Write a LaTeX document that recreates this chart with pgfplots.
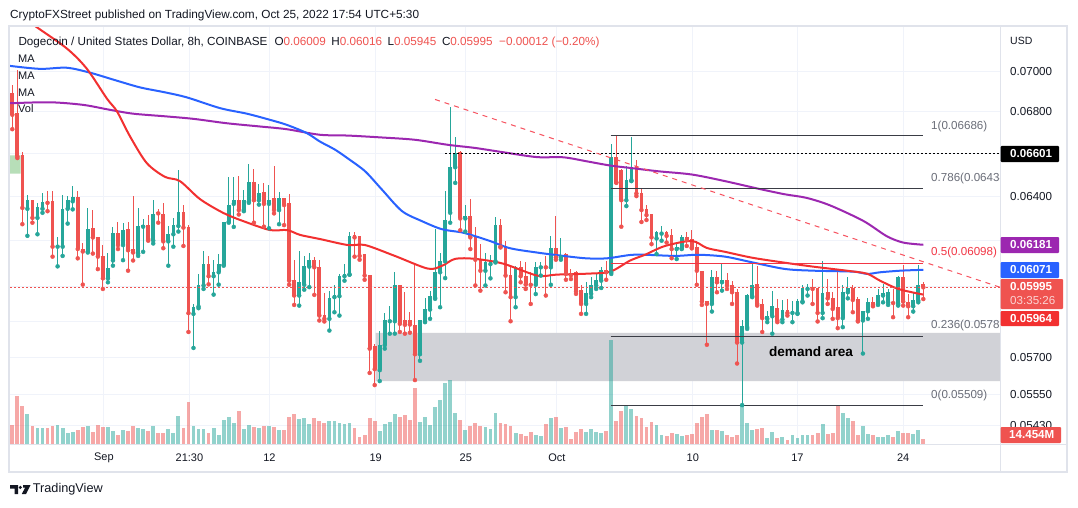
\documentclass[border=0pt]{standalone}
\usepackage{pgfplots}
\pgfplotsset{compat=1.18}
\usepackage{pgfplotstable}
\usepackage{fontspec}
\setmainfont{Liberation Sans}
\definecolor{up}{HTML}{26A69A}
\definecolor{dn}{HTML}{EF5350}
\definecolor{maR}{HTML}{F23030}
\definecolor{maB}{HTML}{2962FF}
\definecolor{maP}{HTML}{9C27B0}
\definecolor{gridc}{HTML}{F0F3FA}
\definecolor{framec}{HTML}{E0E3EB}
\definecolor{txt}{HTML}{131722}
\definecolor{fibc}{HTML}{3A3D45}
\definecolor{fibred}{HTML}{F23645}
\definecolor{fibtxt}{HTML}{6A6D78}
\definecolor{demand}{RGB}{209,210,215}
\definecolor{trend}{HTML}{F7525F}
\definecolor{lgreen}{RGB}{165,214,167}
\newcommand{\fs}[1]{\fontsize{#1}{#1}\selectfont}

% rising candles: index, open, high, low, close, volume (M)
\pgfplotstableread{
i O H L C V
3 0.06343 0.06408 0.06221 0.06382 87
5 0.06302 0.06370 0.06228 0.06350 47
6 0.06343 0.06416 0.06325 0.06376 47
9 0.06173 0.06216 0.06086 0.06177 55
10 0.06173 0.06408 0.06132 0.06340 47
11 0.06343 0.06401 0.06276 0.06382 33
12 0.06377 0.06446 0.06340 0.06396 36
15 0.06151 0.06346 0.06147 0.06252 53
19 0.06034 0.06147 0.06017 0.06078 48
20 0.06112 0.06261 0.06089 0.06234 38
22 0.06180 0.06277 0.06113 0.06247 40
25 0.06142 0.06347 0.06132 0.06265 47
26 0.06262 0.06298 0.06150 0.06269 43
28 0.06200 0.06385 0.06187 0.06319 53
31 0.06196 0.06265 0.06089 0.06228 43
32 0.06228 0.06299 0.06173 0.06269 33
33 0.06265 0.06521 0.06240 0.06328 82
36 0.05882 0.05924 0.05740 0.05913 53
37 0.05913 0.06053 0.05906 0.06003 43
38 0.06003 0.06154 0.05988 0.06096 43
40 0.06043 0.06115 0.05964 0.06063 47
41 0.06060 0.06140 0.06007 0.06096 26
42 0.06093 0.06283 0.06089 0.06283 69
43 0.06284 0.06488 0.06280 0.06362 79
44 0.06365 0.06488 0.06261 0.06382 62
46 0.06337 0.06431 0.06332 0.06385 43
47 0.06377 0.06552 0.06370 0.06468 55
49 0.06382 0.06459 0.06362 0.06416 47
51 0.06365 0.06454 0.06255 0.06385 53
53 0.06337 0.06419 0.06273 0.06393 40
57 0.05960 0.06154 0.05917 0.06017 72
58 0.06006 0.06132 0.05985 0.06089 76
59 0.06085 0.06147 0.05996 0.06115 58
63 0.05861 0.05981 0.05812 0.05950 66
64 0.05953 0.06003 0.05889 0.05964 66
65 0.05957 0.06053 0.05875 0.06046 62
66 0.06043 0.06096 0.06024 0.06053 57
67 0.06050 0.06236 0.06050 0.06221 62
73 0.05649 0.05812 0.05605 0.05753 38
74 0.05751 0.05885 0.05737 0.05854 58
75 0.05851 0.05914 0.05799 0.05854 65
76 0.05851 0.06060 0.05799 0.06003 87
81 0.05714 0.05857 0.05687 0.05854 65
82 0.05851 0.05948 0.05847 0.05903 79
83 0.05900 0.05981 0.05861 0.05960 55
84 0.05950 0.06253 0.05946 0.06063 108
85 0.06060 0.06147 0.05910 0.06108 127
86 0.06108 0.06426 0.06035 0.06291 175
87 0.06325 0.06826 0.06280 0.06535 185
88 0.06535 0.06676 0.06462 0.06602 89
90 0.06299 0.06362 0.06240 0.06310 40
94 0.06067 0.06147 0.06003 0.06103 48
95 0.06096 0.06135 0.06034 0.06110 43
96 0.06108 0.06305 0.06103 0.06269 91
100 0.05953 0.06089 0.05910 0.06085 31
104 0.06006 0.06103 0.05966 0.06085 26
105 0.06082 0.06106 0.06046 0.06089 23
107 0.06082 0.06221 0.06006 0.06166 74
109 0.06125 0.06209 0.06115 0.06137 45
114 0.05924 0.06017 0.05882 0.05970 36
115 0.05967 0.06038 0.05953 0.06007 43
116 0.06003 0.06053 0.05988 0.06028 34
117 0.06024 0.06082 0.05992 0.06070 31
119 0.06060 0.06644 0.06053 0.06581 300
122 0.06382 0.06539 0.06355 0.06474 111
123 0.06474 0.06680 0.06470 0.06531 101
128 0.06209 0.06243 0.06140 0.06236 55
129 0.06231 0.06265 0.06199 0.06236 26
132 0.06162 0.06191 0.06118 0.06169 28
133 0.06165 0.06224 0.06162 0.06214 23
139 0.05924 0.06070 0.05892 0.06038 40
141 0.06017 0.06096 0.05981 0.06027 38
145 0.05762 0.05854 0.05509 0.05830 111
146 0.05826 0.05967 0.05819 0.05964 60
147 0.05957 0.06100 0.05953 0.06007 40
150 0.05861 0.05896 0.05847 0.05875 16
151 0.05872 0.05978 0.05799 0.05914 34
153 0.05858 0.05941 0.05847 0.05900 21
155 0.05886 0.05938 0.05847 0.05896 26
156 0.05885 0.05946 0.05882 0.05938 18
157 0.05934 0.06006 0.05931 0.05991 26
158 0.05988 0.06010 0.05960 0.05998 26
161 0.05886 0.06110 0.05864 0.05971 58
165 0.05864 0.06003 0.05826 0.05977 89
166 0.05974 0.06038 0.05948 0.05991 76
169 0.05854 0.05896 0.05717 0.05896 52
170 0.05893 0.05948 0.05861 0.05931 29
172 0.05924 0.05988 0.05920 0.05963 19
173 0.05960 0.06010 0.05931 0.05970 19
174 0.05931 0.05988 0.05920 0.05974 26
176 0.05924 0.06046 0.05917 0.06038 38
179 0.05914 0.05977 0.05892 0.05943 28
180 0.05938 0.06092 0.05931 0.06003 40
}\upc

% falling candles
\pgfplotstableread{
i O H L C V
0 0.06892 0.06933 0.06716 0.06786 55
1 0.06794 0.07010 0.06578 0.06586 140
2 0.06591 0.06605 0.06273 0.06347 111
4 0.06382 0.06385 0.06280 0.06302 53
7 0.06377 0.06423 0.06332 0.06370 47
8 0.06377 0.06423 0.06129 0.06173 53
13 0.06396 0.06423 0.06121 0.06162 40
14 0.06163 0.06191 0.06007 0.06151 48
16 0.06255 0.06336 0.06142 0.06214 36
17 0.06214 0.06214 0.06074 0.06129 55
18 0.06132 0.06182 0.05988 0.06034 50
21 0.06234 0.06284 0.06162 0.06180 26
23 0.06250 0.06284 0.06067 0.06157 39
24 0.06163 0.06401 0.06112 0.06147 53
27 0.06269 0.06313 0.06199 0.06206 38
29 0.06328 0.06343 0.06280 0.06322 33
30 0.06317 0.06370 0.06166 0.06196 33
34 0.06328 0.06360 0.06176 0.06258 47
35 0.06261 0.06269 0.05806 0.05885 122
39 0.06096 0.06132 0.06008 0.06043 33
45 0.06382 0.06493 0.06317 0.06337 95
48 0.06468 0.06528 0.06280 0.06382 50
50 0.06419 0.06462 0.06262 0.06365 53
52 0.06390 0.06539 0.06322 0.06337 50
54 0.06393 0.06393 0.06269 0.06360 40
55 0.06370 0.06413 0.06006 0.06024 79
56 0.06028 0.06115 0.05920 0.05960 87
60 0.06115 0.06125 0.05963 0.06082 76
61 0.06082 0.06115 0.05854 0.05875 67
62 0.05879 0.05971 0.05850 0.05861 60
68 0.06225 0.06239 0.06129 0.06214 47
69 0.06221 0.06221 0.06115 0.06132 21
70 0.06140 0.06140 0.06028 0.06046 26
71 0.06050 0.06050 0.05638 0.05737 76
72 0.05747 0.05756 0.05589 0.05653 66
77 0.06006 0.06006 0.05806 0.05840 79
78 0.05854 0.05977 0.05799 0.05836 84
79 0.05854 0.05889 0.05803 0.05837 69
80 0.05836 0.06096 0.05609 0.05714 163
89 0.06605 0.06613 0.06246 0.06299 69
91 0.06310 0.06388 0.06162 0.06214 53
92 0.06221 0.06262 0.06003 0.06115 60
93 0.06115 0.06184 0.05981 0.06067 52
97 0.06269 0.06295 0.06169 0.06173 60
98 0.06176 0.06199 0.05974 0.06046 57
99 0.06050 0.06092 0.05851 0.05953 53
101 0.06085 0.06110 0.06017 0.06043 28
102 0.06046 0.06103 0.05988 0.06007 23
103 0.06008 0.06063 0.05924 0.06006 34
106 0.06089 0.06132 0.05960 0.06082 58
108 0.06166 0.06310 0.06115 0.06125 77
110 0.06140 0.06147 0.06028 0.06053 48
111 0.06057 0.06074 0.06031 0.06048 14
112 0.06060 0.06067 0.05967 0.05978 36
113 0.05985 0.06003 0.05882 0.05924 43
118 0.06070 0.06110 0.06028 0.06060 38
120 0.06581 0.06686 0.06462 0.06465 66
121 0.06521 0.06527 0.06262 0.06382 95
124 0.06539 0.06567 0.06401 0.06413 81
125 0.06416 0.06439 0.06283 0.06337 74
126 0.06343 0.06358 0.06292 0.06314 50
127 0.06317 0.06317 0.06184 0.06214 65
130 0.06236 0.06243 0.06191 0.06221 23
131 0.06224 0.06253 0.06122 0.06162 31
134 0.06217 0.06236 0.06176 0.06202 26
135 0.06206 0.06247 0.06165 0.06169 29
136 0.06173 0.06199 0.06006 0.06067 62
137 0.06067 0.06067 0.05920 0.05934 79
138 0.05938 0.05938 0.05753 0.05924 87
140 0.06038 0.06067 0.05974 0.06017 40
142 0.06027 0.06056 0.05988 0.06003 26
143 0.06003 0.06024 0.05924 0.05974 21
144 0.05977 0.05988 0.05676 0.05762 26
148 0.06010 0.06086 0.05917 0.05924 43
149 0.05924 0.05946 0.05806 0.05864 45
152 0.05907 0.05946 0.05847 0.05854 18
154 0.05900 0.05946 0.05875 0.05886 12
159 0.05995 0.06031 0.05924 0.05988 26
160 0.05991 0.05991 0.05850 0.05886 31
162 0.05974 0.06031 0.05924 0.05948 28
163 0.05948 0.05974 0.05861 0.05903 31
164 0.05910 0.06074 0.05822 0.05864 111
167 0.05991 0.06003 0.05889 0.05941 67
168 0.05944 0.05953 0.05850 0.05854 26
171 0.05931 0.05953 0.05914 0.05920 26
175 0.05934 0.05988 0.05868 0.05928 21
177 0.06038 0.06092 0.05917 0.05934 33
178 0.05934 0.05967 0.05868 0.05914 33
181 0.06009 0.06016 0.05945 0.05995 14.454
}\dnc

\pgfplotstableread{
i P
2.5 0.07269
5.1 0.07222
10.9 0.07115
14.8 0.07014
18.8 0.06865
20.8 0.06802
23.4 0.06681
26.7 0.06555
30.3 0.06490
33.3 0.06470
37.3 0.06387
41.9 0.06324
45.8 0.06288
51.2 0.06247
54.6 0.06247
57.2 0.06225
61.1 0.06207
66.7 0.06180
70.1 0.06180
76.0 0.06132
82.6 0.06076
85.4 0.06089
88.0 0.06119
91.9 0.06119
97.5 0.06098
104.3 0.06046
108.2 0.06050
114.2 0.06054
118.8 0.06063
122.7 0.06111
125.7 0.06137
129.7 0.06176
135.0 0.06198
138.0 0.06167
141.6 0.06150
147.0 0.06124
153.5 0.06102
159.1 0.06085
165.8 0.06067
169.8 0.06054
172.4 0.06024
175.8 0.05990
179.0 0.05973
181.0 0.05964
}\maRed

\pgfplotstableread{
i P
-0.5 0.07028
5.5 0.07013
10.8 0.07019
15.4 0.06994
20.7 0.06954
25.4 0.06920
30.3 0.06896
34.7 0.06871
41.3 0.06818
46.6 0.06791
51.2 0.06761
54.5 0.06737
58.5 0.06697
61.1 0.06657
64.1 0.06618
66.8 0.06574
70.1 0.06516
73.4 0.06432
77.4 0.06333
81.3 0.06288
85.3 0.06251
89.3 0.06236
91.9 0.06220
94.9 0.06198
98.9 0.06166
104.2 0.06147
109.5 0.06132
114.1 0.06121
118.1 0.06121
122.7 0.06136
125.7 0.06137
131.7 0.06132
136.3 0.06137
141.6 0.06129
146.9 0.06104
153.5 0.06075
159.2 0.06067
167.1 0.06063
169.8 0.06053
172.4 0.06060
176.4 0.06067
181.0 0.06071
}\maBlue

\pgfplotstableread{
i P
-0.5 0.06842
7.5 0.06847
14.1 0.06834
19.4 0.06810
24.0 0.06791
30.3 0.06778
36.0 0.06766
42.6 0.06745
49.2 0.06729
54.5 0.06716
61.1 0.06689
66.8 0.06685
73.4 0.06676
80.0 0.06665
86.6 0.06641
91.9 0.06626
97.6 0.06605
104.2 0.06583
109.5 0.06582
114.1 0.06563
118.8 0.06543
122.7 0.06532
128.4 0.06516
135.0 0.06501
141.6 0.06470
148.2 0.06435
153.5 0.06409
157.8 0.06393
162.5 0.06358
169.1 0.06288
173.7 0.06220
177.0 0.06191
181.0 0.06181
}\maPur

\pgfplotsset{chart/.style={at={(10pt,63pt)}, anchor=south west,
  width=990pt, height=417pt, scale only axis, xmin=-0.457, xmax=196.24}}

\begin{document}
\begin{tikzpicture}
\useasboundingbox (0,0) rectangle (1078pt,507pt);
\fill[white] (0,0) rectangle (1078pt,507pt);

% background: grid, tick labels, demand zone
\begin{axis}[chart, ymode=log, ymin=0.05357, ymax=0.07227,
  axis line style={draw=none}, major tick length=0pt,
  /pgf/number format/assume math mode=true,
  xtick={18.2,35.2,51.1,72.2,90.1,108.2,135.2,156,177},
  xticklabels={Sep,21:30,12,19,25,Oct,10,17,24},
  ytick={0.0543,0.0555,0.057,0.0585,0.06,0.062,0.064,0.066,0.068,0.07},
  yticklabels={0.05430,0.05550,0.05700,,,,0.06400,,0.06800,0.07000},
  yticklabel pos=right,
  yticklabel style={anchor=west, inner sep=0pt, xshift=10pt, font=\fs{11.6}, text=txt},
  xticklabel style={anchor=center, inner sep=0pt, yshift=-14pt, font=\fs{11}, text=txt},
  grid=major, major grid style={draw=gridc, line width=1pt}]
\addplot[fill=demand, draw=none] coordinates {(72.2,0.05802) (196.3,0.05802) (196.3,0.05605) (72.2,0.05605) (72.2,0.05802)};
\end{axis}

% volume
\begin{axis}[chart, ymin=0, ymax=1205, hide axis]
\addplot[ycomb, draw=up, draw opacity=0.5, line width=3.8pt, mark=none] table[x=i,y=V]{\upc};
\addplot[ycomb, draw=dn, draw opacity=0.5, line width=3.8pt, mark=none] table[x=i,y=V]{\dnc};
\end{axis}

% price
\begin{axis}[chart, ymode=log, ymin=0.05357, ymax=0.07227, hide axis]
\addplot[fill=lgreen, fill opacity=0.8, draw=none] coordinates {(-0.457,0.06505) (1.67,0.06505) (1.67,0.06591) (-0.457,0.06591) (-0.457,0.06505)};
% wicks
\addplot[only marks, mark=none, up, error bars/.cd, y dir=plus, y explicit, error mark=none,
  error bar style={line width=1pt, draw=up}]
  table[x=i, y=L, y error plus expr=\thisrow{H}-\thisrow{L}]{\upc};
\addplot[only marks, mark=none, dn, error bars/.cd, y dir=plus, y explicit, error mark=none,
  error bar style={line width=1pt, draw=dn}]
  table[x=i, y=L, y error plus expr=\thisrow{H}-\thisrow{L}]{\dnc};
% bodies
\addplot[only marks, mark=none, up, error bars/.cd, y dir=plus, y explicit, error mark=none,
  error bar style={line width=3.7pt, draw=up}]
  table[x=i, y=O, y error plus expr=\thisrow{C}-\thisrow{O}]{\upc};
\addplot[only marks, mark=none, dn, error bars/.cd, y dir=plus, y explicit, error mark=none,
  error bar style={line width=3.7pt, draw=dn}]
  table[x=i, y=C, y error plus expr=\thisrow{O}-\thisrow{C}]{\dnc};
% moving averages
\addplot[maP, line width=2pt, smooth, mark=none] table[x=i,y=P]{\maPur};
\addplot[maB, line width=2pt, smooth, mark=none] table[x=i,y=P]{\maBlue};
\addplot[maR, line width=2pt, smooth, mark=none] table[x=i,y=P]{\maRed};
% fibonacci levels
\addplot[fibc, line width=1pt] coordinates {(118.9,0.06686) (181,0.06686)};
\addplot[fibc, line width=1pt] coordinates {(118.9,0.06434) (181,0.06434)};
\addplot[fibred, line width=1pt] coordinates {(118.9,0.06098) (181,0.06098)};
\addplot[fibc, line width=1pt] coordinates {(118.9,0.05787) (181,0.05787)};
\addplot[fibc, line width=1pt] coordinates {(118.9,0.05509) (181,0.05509)};
% horizontal line and trend line
\addplot[black, line width=1pt, dash pattern=on 1.5pt off 2.5pt] coordinates {(86,0.06601) (196.3,0.06601)};
\addplot[trend, line width=1pt, dash pattern=on 5pt off 5pt] coordinates {(84.0,0.06861) (196.3,0.05995)};
\addplot[dn, line width=1pt, dash pattern=on 1.5pt off 2.5pt] coordinates {(-0.457,0.05995) (196.3,0.05995)};
\end{axis}

\begin{scope}[x=1pt,y=1pt]
% frame
\draw[framec, line width=1.3pt] (9,35) rectangle (1067,481);
\draw[framec, line width=1pt] (1000,35) -- (1000,481);
\draw[framec, line width=1pt] (9,63) -- (1067,63);
% fib labels
\begin{scope}
\clip (0,0) rectangle (999.5,507);
\node[anchor=west, inner sep=0pt, font=\fs{11.6}, text=fibtxt] at (931,381) {1(0.06686)};
\node[anchor=west, inner sep=0pt, font=\fs{11.6}, text=fibtxt] at (931,328.7) {0.786(0.06434)};
\node[anchor=west, inner sep=0pt, font=\fs{11.6}, text=fibred] at (931,254.3) {0.5(0.06098)};
\node[anchor=west, inner sep=0pt, font=\fs{11.6}, text=fibtxt] at (931,182) {0.236(0.05787)};
\node[anchor=west, inner sep=0pt, font=\fs{11.6}, text=fibtxt] at (931,112) {0(0.05509)};
\end{scope}
\node[font=\bfseries\fs{13.6}, text=black] at (811,155) {demand area};
% price scale boxes
\fill[black, rounded corners=1pt] (1000.7,345) rectangle (1059,361);
\node[anchor=west, inner sep=0pt, font=\bfseries\fs{11.6}, text=white] at (1010,353) {0.06601};
\fill[maP, rounded corners=1pt] (1000.7,254) rectangle (1059,270);
\node[anchor=west, inner sep=0pt, font=\bfseries\fs{11.6}, text=white] at (1010,262) {0.06181};
\fill[maB, rounded corners=1pt] (1000.7,229) rectangle (1059,245);
\node[anchor=west, inner sep=0pt, font=\bfseries\fs{11.6}, text=white] at (1010,237) {0.06071};
\fill[dn, rounded corners=1pt] (1000.7,198) rectangle (1063,228);
\node[anchor=west, inner sep=0pt, font=\bfseries\fs{11.6}, text=white] at (1010,220) {0.05995};
\node[anchor=west, inner sep=0pt, font=\fs{11.6}, text=white, text opacity=0.75] at (1010,206) {03:35:26};
\fill[maR, rounded corners=1pt] (1000.7,181) rectangle (1059,196);
\node[anchor=west, inner sep=0pt, font=\bfseries\fs{11.6}, text=white] at (1010,188.5) {0.05964};
\fill[dn, rounded corners=1pt] (1000.7,64) rectangle (1061,80);
\node[anchor=west, inner sep=0pt, font=\bfseries\fs{11.6}, text=white] at (1009,72) {14.454M};
\node[anchor=west, inner sep=0pt, font=\fs{10.5}, text=txt] at (1010,466.3) {USD};
% titles and legend
\node[anchor=west, inner sep=0pt, font=\fs{11.8}, text=txt] at (10,492) {CryptoFXStreet published on TradingView.com, Oct 25, 2022 17:54 UTC+5:30};
\node[anchor=west, inner sep=0pt, font=\fs{11.7}, text=txt] at (18.3,464.3) {Dogecoin / United States Dollar, 8h, COINBASE\hspace{7pt}O\textcolor{dn}{0.06009}\hspace{5.5pt}H\textcolor{dn}{0.06016}\hspace{5.5pt}L\textcolor{dn}{0.05945}\hspace{5.5pt}C\textcolor{dn}{0.05995}\hspace{6.5pt}\textcolor{dn}{−0.00012 (−0.20\%)}};
\node[anchor=west, inner sep=0pt, font=\fs{11}, text=txt] at (18,448) {MA};
\node[anchor=west, inner sep=0pt, font=\fs{11}, text=txt] at (18,431) {MA};
\node[anchor=west, inner sep=0pt, font=\fs{11}, text=txt] at (18,414) {MA};
\node[anchor=west, inner sep=0pt, font=\fs{11}, text=txt] at (18,398) {Vol};
% TradingView logo
\fill[txt] (10,22) -- (18,22) -- (18,13) -- (14.5,13) -- (14.5,18.5) -- (10,18.5) -- cycle;
\fill[txt] (20.3,19.6) circle (1.7);
\fill[txt] (23,22) -- (30.5,22) -- (26,13) -- (21.8,13) -- (25.2,19.5) -- (23,19.5) -- cycle;
\node[anchor=west, inner sep=0pt, font=\fs{12.7}, text=txt] at (32.7,17.7) {TradingView};
\end{scope}
\end{tikzpicture}
\end{document}
